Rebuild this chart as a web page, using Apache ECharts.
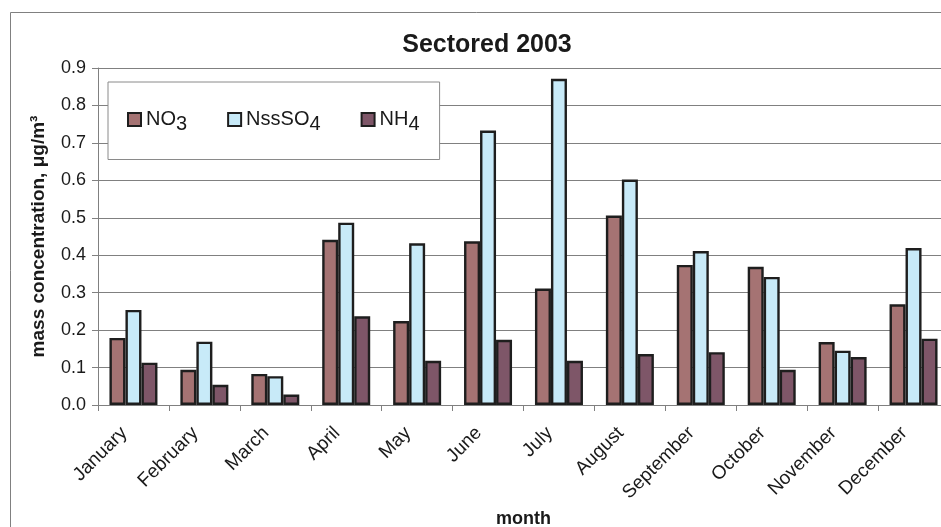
<!DOCTYPE html>
<html>
<head>
<meta charset="utf-8">
<script src="https://cdn.jsdelivr.net/npm/echarts@6/dist/echarts.min.js"></script>
<style>
  html, body { margin: 0; padding: 0; background: #ffffff; }
  #chart { width: 941px; height: 527px; }
</style>
</head>
<body>
<div id="chart"></div>
<script>
// Monthly mean mass concentrations (µg/m3), sectored data for 2003
var months = ['January', 'February', 'March', 'April', 'May', 'June',
              'July', 'August', 'September', 'October', 'November', 'December'];
var no3   = [0.179, 0.094, 0.083, 0.441, 0.224, 0.437, 0.311, 0.506, 0.374, 0.369, 0.168, 0.269];
var nsso4 = [0.254, 0.169, 0.077, 0.487, 0.432, 0.733, 0.871, 0.602, 0.411, 0.342, 0.145, 0.419];
var nh4   = [0.113, 0.054, 0.028, 0.237, 0.118, 0.174, 0.118, 0.136, 0.141, 0.094, 0.128, 0.177];
var yTicks = { min: 0, max: 0.9, step: 0.1 };

var FONT = 'Liberation Sans, Arial, sans-serif';
var chart = echarts.init(document.getElementById('chart'), null, { renderer: 'canvas' });

function makeSeries(name, data, color) {
  return {
    name: name,
    type: 'bar',
    data: data,
    barWidth: 16,
    barGap: '0%',
    itemStyle: { color: color, borderColor: '#1e1e1e', borderWidth: 2.4 }
  };
}

// legend labels with lowered subscripts
var legendLabels = {
  'NO3': '{n|NO}{s|3}',
  'NssSO4': '{n|NssSO}{s|4}',
  'NH4': '{n|NH}{s|4}'
};

chart.setOption({
  backgroundColor: '#ffffff',
  animation: false,
  title: {
    text: 'Sectored 2003',
    left: 482,
    top: 28,
    textAlign: 'center',
    textStyle: { fontFamily: FONT, fontSize: 25, fontWeight: 'bold', color: '#1a1a1a' }
  },
  graphic: [{
    type: 'rect',
    shape: { x: 10.5, y: 12.5, width: 1000, height: 600 },
    style: { fill: 'none', stroke: '#808080', lineWidth: 1 },
    silent: true,
    z: 0
  }],
  legend: {
    left: 108,
    top: 82,
    orient: 'horizontal',
    icon: 'rect',
    itemWidth: 13,
    itemHeight: 13,
    itemGap: 40,
    padding: [27, 20, 25, 19],
    backgroundColor: '#ffffff',
    borderColor: '#8a8a8a',
    borderWidth: 1,
    formatter: function (name) { return legendLabels[name]; },
    textStyle: {
      fontFamily: FONT,
      color: '#1a1a1a',
      rich: {
        n: { fontFamily: FONT, fontSize: 20, color: '#1a1a1a', padding: [3, 0, 4, 0] },
        s: { fontFamily: FONT, fontSize: 20, color: '#1a1a1a', padding: [10, 0, 0, 0] }
      }
    },
    data: ['NO3', 'NssSO4', 'NH4']
  },
  grid: { left: 98, top: 68, width: 851, height: 337, containLabel: false, outerBoundsMode: 'none' },
  xAxis: {
    type: 'category',
    data: months,
    boundaryGap: true,
    name: 'month',
    nameLocation: 'middle',
    nameGap: 101,
    nameTextStyle: { fontFamily: FONT, fontSize: 18, fontWeight: 'bold', color: '#1a1a1a' },
    axisLine: { lineStyle: { color: '#808080', width: 1 } },
    axisTick: { show: true, alignWithLabel: false, length: 6, lineStyle: { color: '#808080' } },
    axisLabel: {
      rotate: 45,
      margin: 16,
      padding: [0, 13, 0, 0],
      interval: 0,
      fontFamily: FONT,
      fontSize: 19,
      color: '#1a1a1a'
    },
    splitLine: { show: false }
  },
  yAxis: {
    type: 'value',
    min: yTicks.min,
    max: yTicks.max,
    interval: yTicks.step,
    name: 'mass concentration, μg/m³',
    nameLocation: 'middle',
    nameGap: 50,
    nameRotate: 90,
    nameTextStyle: { fontFamily: FONT, fontSize: 19, fontWeight: 'bold', color: '#1a1a1a' },
    axisLine: { show: true, lineStyle: { color: '#808080', width: 1 } },
    axisTick: { show: true, inside: false, length: 6, lineStyle: { color: '#808080' } },
    axisLabel: {
      margin: 12,
      fontFamily: FONT,
      fontSize: 18,
      color: '#1a1a1a',
      formatter: function (v) { return v.toFixed(1); }
    },
    splitLine: { show: true, lineStyle: { color: '#808080', width: 1 } }
  },
  series: [
    makeSeries('NO3', no3, '#a57373'),
    makeSeries('NssSO4', nsso4, '#c8eaf8'),
    makeSeries('NH4', nh4, '#7e5668')
  ]
});
</script>
</body>
</html>
